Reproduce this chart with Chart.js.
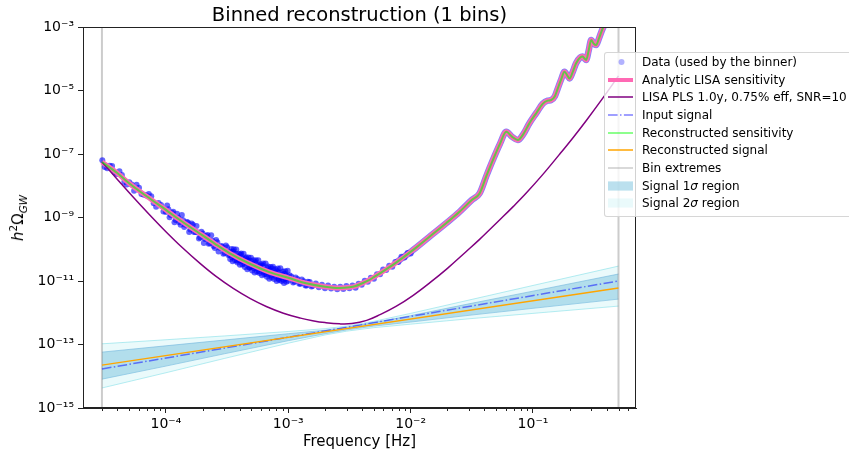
<!DOCTYPE html>
<html>
<head>
<meta charset="utf-8">
<script src="https://cdn.jsdelivr.net/npm/chart.js@4.4.1/dist/chart.umd.min.js"></script>
<style>
    html, body { margin: 0; padding: 0; background: #fff; }
    #wrap { position: relative; width: 849px; height: 456px; overflow: hidden; font-family: 'DejaVu Sans', sans-serif; color: #000; }
    #grafica { position: absolute; left: 0; top: 0; }
    #titulo { position: absolute; left: 0; top: 5px; width: 719px; text-align: center; font-size: 19.5px; line-height: 19.5px; white-space: nowrap; }
    #ylab { position: absolute; left: 18px; top: 218px; transform: translate(-50%, -50%) rotate(-90deg); font-size: 15px; line-height: 18px; white-space: nowrap; }
    #ylab sup, #ylab sub { font-size: 70%; line-height: 0; }
    #leyenda { position: absolute; left: 604px; top: 52px; width: 262px; height: 165px; box-sizing: border-box;
               border: 1px solid rgba(204,204,204,0.8); border-radius: 3px; background: rgba(255,255,255,0.8); font-size: 12px; }
    .fila { position: absolute; left: 0; height: 18px; display: flex; align-items: center; }
    .fila svg { margin-left: 3px; width: 25px; height: 18px; }
    .fila span { margin-left: 9px; white-space: nowrap; }
</style>
</head>
<body>
<div id="wrap">
    <canvas id="grafica" width="849" height="456"></canvas>
    <div id="titulo">Binned reconstruction (1 bins)</div>
    <div id="ylab"><i>h</i><sup>2</sup>Ω<sub><i>GW</i></sub></div>
    <div id="leyenda"></div>
</div>
<script>
// axis limits and ticks
const xLimits = [2.1e-5, 0.695];
const yLimits = [1e-15, 1e-3];
const xMajorTicks = [1e-4, 1e-3, 1e-2, 1e-1];
const yMajorTicks = [1e-15, 1e-13, 1e-11, 1e-9, 1e-7, 1e-5, 1e-3];
const binEdges = [3e-5, 0.5];

// analytic LISA sensitivity (the reconstructed one lies on top of it)
const sensFreq = [3.0e-5, 4.0e-5, 5.0e-5, 7.0e-5, 1.0e-4, 1.3e-4, 1.8e-4, 2.5e-4, 3.3e-4, 5.0e-4, 7.0e-4, 1.0e-3,
    1.4e-3, 2.0e-3, 2.6e-3, 3.16e-3, 3.55e-3, 3.98e-3, 4.47e-3, 5.0e-3, 5.6e-3, 7.6e-3, 1.05e-2, 1.41e-2, 1.95e-2,
    2.51e-2, 3.16e-2, 3.66e-2, 4.17e-2, 4.70e-2, 5.37e-2, 6.05e-2, 6.76e-2, 7.52e-2, 8.32e-2, 9.35e-2, 0.107, 0.120,
    0.132, 0.141, 0.151, 0.158, 0.170, 0.181, 0.191, 0.199, 0.211, 0.225, 0.243, 0.255, 0.265, 0.272, 0.285, 0.299,
    0.313, 0.328, 0.347, 0.372, 0.398, 0.447, 0.50];
const sensVal = [5.62e-8, 2.51e-8, 1.20e-8, 4.57e-9, 1.74e-9, 8.32e-10, 3.55e-10, 1.51e-10, 7.59e-11, 3.31e-11, 1.91e-11,
    1.26e-11, 8.51e-12, 6.61e-12, 6.03e-12, 6.31e-12, 6.92e-12, 8.32e-12, 1.02e-11, 1.32e-11, 1.74e-11, 3.80e-11,
    9.55e-11, 2.40e-10, 6.61e-10, 1.51e-9, 3.55e-9, 5.75e-9, 2.09e-8, 6.46e-8, 2.09e-7, 5.01e-7, 3.47e-7, 2.75e-7,
    4.17e-7, 9.33e-7, 2.0e-6, 3.80e-6, 4.79e-6, 5.01e-6, 6.61e-6, 1.05e-5, 2.24e-5, 3.89e-5, 2.95e-5, 2.40e-5, 3.80e-5,
    7.24e-5, 1.10e-4, 1.17e-4, 1.0e-4, 9.12e-5, 1.78e-4, 3.89e-4, 3.02e-4, 2.69e-4, 4.47e-4, 9.12e-4, 1.41e-3,
    2.51e-3, 3.98e-3];

// power-law sensitivity
const plsFreq = [3.0e-5, 3.55e-5, 4.17e-5, 5.37e-5, 7.41e-5, 1.0e-4, 1.38e-4, 1.91e-4, 2.57e-4, 3.55e-4, 4.9e-4, 6.61e-4,
    9.12e-4, 1.26e-3, 1.58e-3, 2.0e-3, 2.63e-3, 3.31e-3, 4.37e-3, 5.62e-3, 7.59e-3, 1.05e-2, 1.43e-2, 2.0e-2, 2.85e-2,
    3.66e-2, 5.33e-2, 6.92e-2, 8.81e-2, 0.120, 0.164, 0.214, 0.272, 0.372, 0.50];
const plsVal = [5.62e-8, 2.72e-8, 1.34e-8, 4.51e-9, 1.18e-9, 3.57e-10, 1.07e-10, 3.51e-11, 1.39e-11, 5.81e-12, 2.77e-12,
    1.57e-12, 9.66e-13, 6.78e-13, 5.64e-13, 4.90e-13, 4.47e-13, 4.57e-13, 5.75e-13, 8.71e-13, 1.58e-12, 3.55e-12,
    8.71e-12, 2.51e-11, 8.51e-11, 2.04e-10, 8.32e-10, 2.24e-9, 5.89e-9, 2.24e-8, 9.55e-8, 3.39e-7, 1.12e-6, 5.75e-6,
    2.88e-5];

// signals
const signalFreq = [3e-5, 0.5];
const inputSignal = [1.7e-14, 1.0e-11];
const reconSignal = [2.24e-14, 6.0e-12];

// uncertainty bands
const bandFreq = [3e-5, 1e-4, 3e-4, 1e-3, 2e-3, 3e-3, 5e-3, 1e-2, 3e-2, 0.1, 0.5];
const band1Upper = [5.75e-14, 9.1e-14, 1.38e-13, 2.19e-13, 2.82e-13, 3.47e-13, 4.9e-13, 8.1e-13, 1.91e-12, 4.79e-12, 1.66e-11];
const band1Lower = [8.1e-15, 2.09e-14, 5.1e-14, 1.32e-13, 2.19e-13, 2.88e-13, 3.8e-13, 5.1e-13, 8.3e-13, 1.38e-12, 2.69e-12];
const band2Upper = [1.05e-13, 1.41e-13, 1.86e-13, 2.57e-13, 3.16e-13, 3.8e-13, 5.37e-13, 9.55e-13, 2.51e-12, 7.24e-12, 2.95e-11];
const band2Lower = [4.27e-15, 1.29e-14, 3.63e-14, 1.1e-13, 2.0e-13, 2.63e-13, 3.39e-13, 4.37e-13, 6.46e-13, 9.55e-13, 1.62e-12];

// data used by the binner (log10 of frequency and of h^2 Omega)
const dataLogFreq = [
    -4.52, -4.48, -4.44, -4.40, -4.36, -4.32, -4.28, -4.24, -4.20, -4.16, -4.12, -4.08, -4.04, -4.00,
    -4.50, -4.46, -4.42, -4.38, -4.34, -4.30, -4.26, -4.22, -4.18, -4.14, -4.10, -4.06, -4.02,
    -3.98, -3.96, -3.94, -3.92, -3.90, -3.88, -3.86, -3.84, -3.82, -3.80, -3.78, -3.76, -3.74, -3.72, -3.70,
    -3.68, -3.66, -3.64, -3.62, -3.60, -3.58, -3.56, -3.54, -3.52, -3.50, -3.48,
    -3.99, -3.97, -3.95, -3.93, -3.91, -3.89, -3.87, -3.85, -3.83, -3.81, -3.79, -3.77, -3.75, -3.73, -3.71,
    -3.69, -3.67, -3.65, -3.63, -3.61, -3.59, -3.57, -3.55, -3.53, -3.51, -3.49,
    -3.47, -3.46, -3.45, -3.44, -3.43, -3.42, -3.41, -3.40, -3.39, -3.38, -3.37, -3.36, -3.35, -3.34, -3.33, -3.32,
    -3.31, -3.30, -3.29, -3.28, -3.27, -3.26, -3.25, -3.24, -3.23, -3.22, -3.21, -3.20, -3.19, -3.18, -3.17, -3.16,
    -3.15, -3.14, -3.13, -3.12, -3.11, -3.10, -3.09, -3.08, -3.07, -3.06, -3.05, -3.04, -3.03, -3.02, -3.01, -3.00,
    -3.475, -3.465, -3.455, -3.445, -3.435, -3.425, -3.415, -3.405, -3.395, -3.385, -3.375, -3.365, -3.355, -3.345,
    -3.335, -3.325, -3.315, -3.305, -3.295, -3.285, -3.275, -3.265, -3.255, -3.245, -3.235, -3.225, -3.215, -3.205,
    -3.195, -3.185, -3.175, -3.165, -3.155, -3.145, -3.135, -3.125, -3.115, -3.105, -3.095, -3.085, -3.075, -3.065,
    -3.055, -3.045, -3.035, -3.025, -3.015, -3.005,
    -2.99, -2.96, -2.94, -2.91, -2.89, -2.86, -2.84, -2.81,
    -2.975, -2.95, -2.925, -2.90, -2.875, -2.85, -2.825, -2.80, -2.775, -2.75, -2.725, -2.70, -2.675, -2.65,
    -2.625, -2.60, -2.575, -2.55, -2.525, -2.50, -2.475, -2.45, -2.425, -2.40, -2.375, -2.35, -2.325, -2.30,
    -2.275, -2.25, -2.225, -2.20, -2.175, -2.15, -2.125, -2.10, -2.075, -2.05, -2.025, -2.00];
const dataLogOmega = [
    -7.20, -7.45, -7.38, -7.63, -7.66, -7.96, -7.96, -7.97, -8.26, -8.31, -8.33, -8.66, -8.61, -8.83,
    -7.41, -7.37, -7.58, -7.54, -7.88, -7.89, -8.16, -8.06, -8.28, -8.26, -8.55, -8.54, -8.81,
    -8.74, -8.92, -8.82, -9.08, -9.01, -9.23, -9.09, -9.23, -9.16, -9.38, -9.23, -9.46, -9.47, -9.63, -9.50,
    -9.68, -9.55, -9.81, -9.73, -9.96, -9.78, -9.95, -9.91, -10.12, -9.94, -10.17,
    -8.62, -8.99, -8.85, -9.15, -8.88, -9.15, -8.92, -9.30, -9.14, -9.46, -9.19, -9.46, -9.27, -9.66, -9.45,
    -9.80, -9.58, -9.83, -9.56, -9.90, -9.71, -10.07, -9.90, -10.14, -9.88, -10.18,
    -10.08, -10.25, -10.07, -10.23, -10.14, -10.36, -10.24, -10.35, -10.17, -10.37, -10.30, -10.46, -10.29, -10.41,
    -10.35, -10.57, -10.36, -10.54, -10.47, -10.60, -10.41, -10.58, -10.51, -10.69, -10.51, -10.63, -10.51, -10.72,
    -10.65, -10.79, -10.60, -10.75, -10.66, -10.83, -10.61, -10.79, -10.73, -10.86, -10.69, -10.93, -10.75, -10.89,
    -10.82, -10.96, -10.77, -10.92, -10.84, -10.99,
    -10.31, -9.99, -10.38, -10.00, -10.35, -10.01, -10.42, -10.14, -10.49, -10.13, -10.48, -10.14, -10.56, -10.25,
    -10.63, -10.26, -10.58, -10.27, -10.67, -10.35, -10.73, -10.35, -10.71, -10.35, -10.75, -10.47, -10.82, -10.45,
    -10.79, -10.45, -10.87, -10.54, -10.93, -10.56, -10.89, -10.55, -10.94, -10.63, -11.00, -10.61, -10.97, -10.60,
    -11.00, -10.70, -11.06, -10.69, -11.02, -10.68,
    -10.82, -11.05, -10.89, -11.09, -10.95, -11.14, -11.02, -11.17,
    -10.86, -11.02, -10.94, -11.09, -11.01, -11.14, -11.03, -11.15, -11.08, -11.20, -11.12, -11.23, -11.14, -11.24,
    -11.18, -11.26, -11.18, -11.25, -11.16, -11.23, -11.14, -11.21, -11.09, -11.12, -10.99, -11.02, -10.90, -10.93,
    -10.79, -10.79, -10.64, -10.65, -10.52, -10.55, -10.40, -10.40, -10.24, -10.26, -10.12, -10.13];

const legendLabels = ['Data (used by the binner)', 'Analytic LISA sensitivity', 'LISA PLS 1.0y, 0.75% eff, SNR=10',
    'Input signal', 'Reconstructed sensitivity', 'Reconstructed signal', 'Bin extremes',
    'Signal 1<i>σ</i> region', 'Signal 2<i>σ</i> region'];

const COLORS = {
    data: 'rgba(0,0,255,0.6)',
    dataLegend: 'rgba(0,0,255,0.3)',
    dataEdge: 'rgba(0,0,255,0.5)',
    sens: '#ff69b4',
    pls: '#800080',
    input: 'rgba(0,0,255,0.5)',
    reconSens: 'rgba(0,255,0,0.6)',
    reconSignal: '#ffa500',
    bins: 'rgba(128,128,128,0.4)',
    band1: 'rgba(135,200,225,0.57)',
    band1Edge: 'rgba(110,180,220,0.6)',
    band2: 'rgba(160,230,235,0.22)',
    band2Edge: 'rgba(120,220,230,0.55)'
};
const DASH_DOT = [9.6, 2.4, 1.5, 2.4];

function puntos(xs, ys) {
    return xs.map((x, i) => ({ x: x, y: ys[i] }));
}

function potencia(v) {
    const sup = { '-': '⁻', '0': '⁰', '1': '¹', '2': '²', '3': '³', '4': '⁴', '5': '⁵', '6': '⁶', '7': '⁷', '8': '⁸', '9': '⁹' };
    const e = String(Math.round(Math.log10(v)));
    return '10' + e.split('').map(c => sup[c]).join('');
}

const xMinorTicks = [];
for (let d = -5; d <= -1; d++) {
    for (let m = 2; m <= 9; m++) {
        const v = m * Math.pow(10, d);
        if (v > xLimits[0] && v < xLimits[1]) xMinorTicks.push(v);
    }
}

const linea = (data, color, width, order, extra) => Object.assign({
    type: 'line', data: data, borderColor: color, backgroundColor: color, borderWidth: width,
    pointRadius: 0, fill: false, order: order, clip: 0
}, extra || {});

const datosPuntos = dataLogFreq.map((lf, i) => ({ x: Math.pow(10, lf), y: Math.pow(10, dataLogOmega[i]) }));
const sensPuntos = puntos(sensFreq, sensVal);
// above 1e-2 the data sit on the curve and only show as a thin edge
const bordeDatos = sensPuntos.filter(p => p.x >= 7e-3);

const datasets = [
    linea(puntos(signalFreq, reconSignal), COLORS.reconSignal, 1.5, 1),
    linea(sensPuntos, COLORS.reconSens, 2, 2, { cubicInterpolationMode: 'monotone' }),
    linea(puntos(signalFreq, inputSignal), COLORS.input, 1.5, 3, { borderDash: DASH_DOT }),
    linea(puntos(plsFreq, plsVal), COLORS.pls, 1.5, 4, { tension: 0.4 }),
    linea(sensPuntos, COLORS.sens, 5, 5, { cubicInterpolationMode: 'monotone' }),
    linea(bordeDatos, COLORS.dataEdge, 6.5, 6, { cubicInterpolationMode: 'monotone' }),
    {
        type: 'scatter', data: datosPuntos, order: 7, clip: 0,
        pointRadius: 3, pointBorderWidth: 0, pointBackgroundColor: COLORS.data, showLine: false
    },
    linea([{ x: binEdges[0], y: yLimits[0] }, { x: binEdges[0], y: yLimits[1] }], COLORS.bins, 2, 8),
    linea([{ x: binEdges[1], y: yLimits[0] }, { x: binEdges[1], y: yLimits[1] }], COLORS.bins, 2, 8),
    linea(puntos(bandFreq, band1Upper), COLORS.band1Edge, 1, 9, { fill: '+1', backgroundColor: COLORS.band1 }),
    linea(puntos(bandFreq, band1Lower), COLORS.band1Edge, 1, 9),
    linea(puntos(bandFreq, band2Upper), COLORS.band2Edge, 1, 10, { fill: '+1', backgroundColor: COLORS.band2 }),
    linea(puntos(bandFreq, band2Lower), COLORS.band2Edge, 1, 10)
];

const marcoPlugin = {
    id: 'marco',
    afterDraw(chart) {
        const { ctx, chartArea: a, scales } = chart;
        ctx.save();
        ctx.strokeStyle = '#222';
        ctx.lineWidth = 1;
        ctx.strokeRect(Math.round(a.left) + 0.5, Math.round(a.top) + 0.5,
            Math.round(a.right - a.left) - 1, Math.round(a.bottom - a.top) - 1);
        ctx.beginPath();
        xMinorTicks.forEach(v => {
            const px = Math.round(scales.x.getPixelForValue(v)) + 0.5;
            ctx.moveTo(px, a.bottom);
            ctx.lineTo(px, a.bottom + 3);
        });
        ctx.stroke();
        ctx.restore();
    }
};

const ejeComun = {
    type: 'logarithmic',
    grid: { drawOnChartArea: false, drawTicks: true, tickLength: 5, tickColor: '#222', tickWidth: 1 },
    border: { display: true, color: '#222', width: 1 },
    ticks: {
        callback: v => potencia(v), color: '#000', autoSkip: false, maxRotation: 0,
        font: { family: 'DejaVu Sans', size: 14 }
    }
};

new Chart(document.getElementById('grafica'), {
    type: 'line',
    data: { datasets: datasets },
    options: {
        responsive: false,
        animation: false,
        devicePixelRatio: 1,
        layout: { padding: { left: 0, right: 213, top: 27, bottom: 0 } },
        plugins: { legend: { display: false }, tooltip: { enabled: false }, title: { display: false } },
        scales: {
            x: Object.assign({}, ejeComun, {
                min: xLimits[0], max: xLimits[1],
                afterBuildTicks: s => { s.ticks = xMajorTicks.map(v => ({ value: v })); },
                afterFit: s => { s.height = 48; },
                ticks: Object.assign({}, ejeComun.ticks, { padding: 3 }),
                title: {
                    display: true, text: 'Frequency [Hz]', color: '#000',
                    font: { family: 'DejaVu Sans', size: 15 }, padding: { top: 0, bottom: 5 }
                }
            }),
            y: Object.assign({}, ejeComun, {
                min: yLimits[0], max: yLimits[1],
                afterBuildTicks: s => { s.ticks = yMajorTicks.map(v => ({ value: v })); },
                afterFit: s => { s.width = 83; },
                ticks: Object.assign({}, ejeComun.ticks, { padding: 4 })
            })
        }
    },
    plugins: [marcoPlugin]
});

// legend, drawn as html over the canvas
const manijas = [
    '<circle cx="13.5" cy="9" r="3" fill="' + COLORS.dataLegend + '"/>',
    '<line x1="0" y1="9" x2="25" y2="9" stroke="' + COLORS.sens + '" stroke-width="4"/>',
    '<line x1="0" y1="9" x2="25" y2="9" stroke="' + COLORS.pls + '" stroke-width="1.5"/>',
    '<line x1="0" y1="9" x2="25" y2="9" stroke="' + COLORS.input + '" stroke-width="1.5" stroke-dasharray="' + DASH_DOT.join(' ') + '"/>',
    '<line x1="0" y1="9" x2="25" y2="9" stroke="' + COLORS.reconSens + '" stroke-width="1.5"/>',
    '<line x1="0" y1="9" x2="25" y2="9" stroke="' + COLORS.reconSignal + '" stroke-width="1.5"/>',
    '<line x1="0" y1="9" x2="25" y2="9" stroke="' + COLORS.bins + '" stroke-width="1.5"/>',
    '<rect x="0" y="4.4" width="25" height="9.2" fill="' + COLORS.band1 + '"/>',
    '<rect x="0" y="4.4" width="25" height="9.2" fill="' + COLORS.band2 + '"/>'
];
const leyenda = document.getElementById('leyenda');
legendLabels.forEach((texto, i) => {
    const fila = document.createElement('div');
    fila.className = 'fila';
    fila.style.top = (i * 17.65) + 'px';
    fila.innerHTML = '<svg viewBox="0 0 25 18">' + manijas[i] + '</svg><span>' + texto + '</span>';
    leyenda.appendChild(fila);
});
</script>
</body>
</html>
